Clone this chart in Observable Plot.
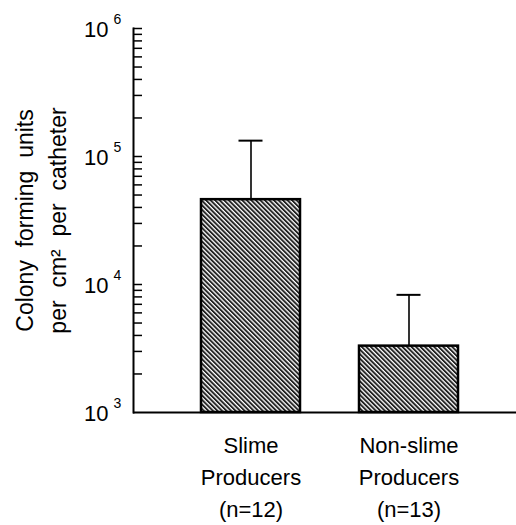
<!DOCTYPE html>
<html>
<head>
<meta charset="utf-8">
<script src="https://cdn.jsdelivr.net/npm/d3@7"></script>
<script src="https://cdn.jsdelivr.net/npm/@observablehq/plot@0.6"></script>
<style>
  html, body { margin: 0; padding: 0; background: #fff; }
  svg { font-family: "Liberation Sans", Arial, Helvetica, sans-serif; }
</style>
</head>
<body>
<div id="chart"></div>
<script>
// ---- data ----
const groups = ["Slime", "Non-slime"];
const groupLabels = ["Slime\nProducers\n(n=12)", "Non-slime\nProducers\n(n=13)"];
const means = [46000, 3300];
const upperErr = [133000, 8300];
const decadeExponents = [3, 4, 5, 6];
const decadeValues = [1e3, 1e4, 1e5, 1e6];
const minorTicks = [
  2e3, 3e3, 4e3, 5e3, 6e3, 7e3, 8e3, 9e3, 1e4,
  2e4, 3e4, 4e4, 5e4, 6e4, 7e4, 8e4, 9e4, 1e5,
  2e5, 3e5, 4e5, 5e5, 6e5, 7e5, 8e5, 9e5, 1e6
];
const yTitle = "Colony  forming  units\nper  cm\u00B2  per  catheter";

const rows = groups.map((g, i) => ({group: g, label: groupLabels[i], mean: means[i], upper: upperErr[i]}));
const decades = decadeExponents.map((e, i) => ({exp: String(e), value: decadeValues[i]}));

const W = 516, H = 525;
const marginLeft = 133, marginRight = 0, marginTop = 28, marginBottom = 113;
const frameW = W - marginLeft - marginRight;

const plot = Plot.plot({
  width: W,
  height: H,
  marginLeft, marginRight, marginTop, marginBottom,
  style: {fontFamily: '"Liberation Sans", Arial, Helvetica, sans-serif', color: "#000", background: "#fff"},
  x: {domain: groups, range: [172, 488], paddingInner: 0.373, paddingOuter: 0.1865, axis: null},
  y: {type: "log", domain: [1e3, 1e6], axis: null},
  marks: [
    // bars
    Plot.barY(rows, {x: "group", y1: 1e3, y2: "mean", fill: "url(#hatch)", stroke: "#000", strokeWidth: 2.5}),
    // error bars
    Plot.ruleX(rows, {x: "group", y1: "mean", y2: "upper", stroke: "#000", strokeWidth: 1.6}),
    Plot.tickY(rows, {x: "group", y: "upper", stroke: "#000", strokeWidth: 2, insetLeft: 37.5, insetRight: 37.5}),
    // y axis ticks (pointing inward)
    Plot.tickY(minorTicks, {y: d => d, stroke: "#000", strokeWidth: 1.5, insetRight: frameW - 9}),
    // axis line and baseline
    Plot.frame({anchor: "left", stroke: "#000", strokeWidth: 2}),
    Plot.ruleY([1e3], {stroke: "#000", strokeWidth: 2}),
    // y tick labels
    Plot.text(decades, {y: "value", text: () => "10", frameAnchor: "left", textAnchor: "end", dx: -25, dy: 1, fontSize: 22, fill: "#000"}),
    Plot.text(decades, {y: "value", text: "exp", frameAnchor: "left", textAnchor: "start", dx: -20, dy: -9, fontSize: 14, fill: "#000"}),
    // y title
    Plot.text([yTitle], {frameAnchor: "left", textAnchor: "middle", rotate: -90, dx: -95, lineAnchor: "middle", fontSize: 23, lineHeight: 1.45, fill: "#000"}),
    // x labels
    Plot.text(rows, {x: "group", text: "label", frameAnchor: "bottom", lineAnchor: "top", dy: 18, fontSize: 22, lineHeight: 1.45, fill: "#000"})
  ]
});

// hatch pattern
const ns = "http://www.w3.org/2000/svg";
const defs = document.createElementNS(ns, "defs");
const pat = document.createElementNS(ns, "pattern");
pat.setAttribute("id", "hatch");
pat.setAttribute("patternUnits", "userSpaceOnUse");
pat.setAttribute("width", "3.2");
pat.setAttribute("height", "10");
pat.setAttribute("patternTransform", "rotate(-45)");
const bg = document.createElementNS(ns, "rect");
bg.setAttribute("width", "3.2"); bg.setAttribute("height", "10"); bg.setAttribute("fill", "#fff");
const ln = document.createElementNS(ns, "rect");
ln.setAttribute("x", "0"); ln.setAttribute("width", "1.9"); ln.setAttribute("height", "10"); ln.setAttribute("fill", "#222");
pat.appendChild(bg); pat.appendChild(ln);
defs.appendChild(pat);
plot.insertBefore(defs, plot.firstChild);

document.getElementById("chart").appendChild(plot);
</script>
</body>
</html>
